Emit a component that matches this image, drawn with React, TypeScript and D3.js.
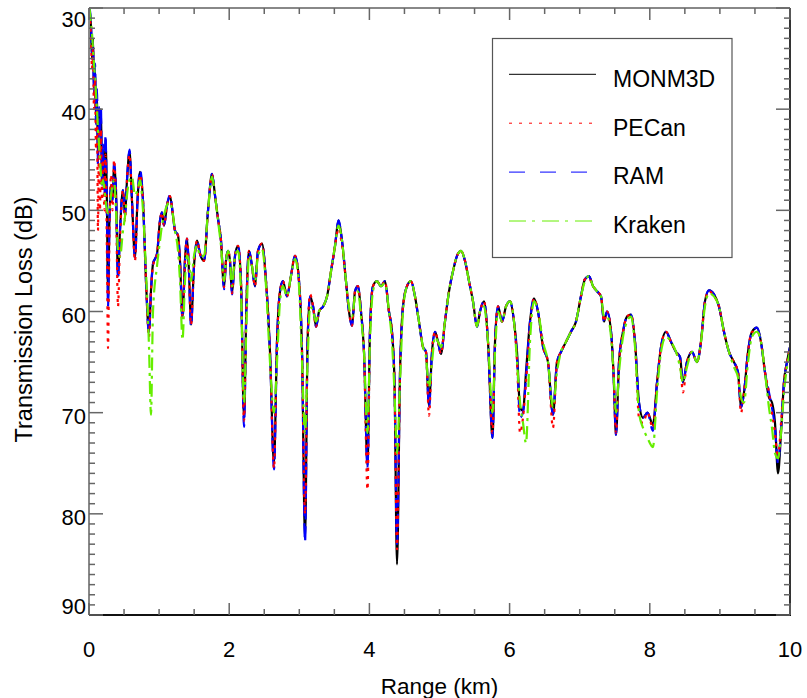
import React, { useEffect, useRef } from 'react'
import * as d3 from 'd3'

// range grid (km), shared by all four models
const ranges = [
  0.007, 0.029, 0.043, 0.057, 0.071, 0.086, 0.1, 0.114, 0.128, 0.143,
  0.157, 0.171, 0.185, 0.2, 0.221, 0.235, 0.257, 0.271, 0.292, 0.314,
  0.335, 0.357, 0.385, 0.414, 0.442, 0.485, 0.514, 0.542, 0.578, 0.613,
  0.656, 0.692, 0.728, 0.77, 0.813, 0.856, 0.884, 0.913, 0.97, 1.013,
  1.041, 1.07, 1.113, 1.155, 1.198, 1.227, 1.27, 1.298, 1.334, 1.369,
  1.398, 1.426, 1.455, 1.498, 1.541, 1.584, 1.641, 1.698, 1.755, 1.797,
  1.84, 1.883, 1.926, 1.954, 1.983, 2.011, 2.04, 2.083, 2.126, 2.168,
  2.211, 2.247, 2.282, 2.325, 2.368, 2.411, 2.468, 2.525, 2.582, 2.639,
  2.682, 2.725, 2.767, 2.824, 2.881, 2.939, 2.996, 3.039, 3.082, 3.118,
  3.154, 3.197, 3.239, 3.282, 3.339, 3.396, 3.453, 3.51, 3.559, 3.609,
  3.666, 3.709, 3.752, 3.795, 3.837, 3.88, 3.923, 3.973, 4.008, 4.051,
  4.108, 4.165, 4.222, 4.279, 4.322, 4.358, 4.394, 4.437, 4.479, 4.536,
  4.593, 4.65, 4.707, 4.764, 4.807, 4.85, 4.893, 4.936, 4.979, 5.021,
  5.078, 5.136, 5.193, 5.25, 5.307, 5.364, 5.421, 5.478, 5.535, 5.578,
  5.635, 5.692, 5.756, 5.792, 5.835, 5.892, 5.949, 6.006, 6.063, 6.106,
  6.149, 6.191, 6.234, 6.291, 6.348, 6.405, 6.477, 6.548, 6.619, 6.676,
  6.733, 6.805, 6.876, 6.947, 7.018, 7.075, 7.132, 7.19, 7.247, 7.304,
  7.347, 7.39, 7.447, 7.482, 7.518, 7.561, 7.618, 7.675, 7.732, 7.789,
  7.846, 7.903, 7.967, 8.045, 8.103, 8.16, 8.231, 8.302, 8.374, 8.431,
  8.473, 8.53, 8.602, 8.673, 8.73, 8.787, 8.845, 8.916, 8.987, 9.058,
  9.13, 9.201, 9.258, 9.301, 9.344, 9.401, 9.458, 9.529, 9.586, 9.643,
  9.7, 9.743, 9.786, 9.829, 9.872, 9.914, 9.957, 10,
]

const monm3d = [
  30.2, 32, 35, 33, 38, 36, 41, 38.5, 45, 40,
  42, 40, 47, 44, 48, 43, 50, 59, 51, 47.5,
  49, 45.5, 48, 56.5, 52, 48, 50.5, 47, 44.2, 49,
  54.6, 49, 46.2, 49, 57, 62, 58, 55.3, 54.3, 51,
  50.2, 51.5, 49.5, 48.6, 50.5, 52, 52.5, 55, 60.5, 55,
  52.8, 56, 61.3, 55.5, 53, 54.3, 55, 50, 46.4, 48.5,
  50.8, 53, 57.6, 55, 54, 55, 58.2, 54.5, 53.5, 57,
  70.5, 59, 54, 55.5, 57.5, 54, 53.3, 57, 64, 75,
  63, 58, 57, 58.5, 56.5, 54.5, 57, 64, 82.5, 63,
  58.5, 59.5, 61.5, 60, 59.5, 58.5, 56, 53.5, 51, 53,
  57, 60, 61.4, 58, 57.5, 60, 64, 75.2, 62, 57.5,
  57, 57.5, 57, 60, 62, 67, 85, 66, 59.5, 57.5,
  57, 58.5, 61, 63.5, 64, 69.3, 64, 62, 63, 64.2,
  61, 58, 56, 54.5, 54, 55, 57, 59, 61.5, 60,
  59, 63, 72.5, 63, 59.5, 61, 59.5, 59, 61, 64,
  69.5, 69.8, 66, 61, 58.7, 60, 63.5, 65, 70.2, 65,
  64, 63, 62, 61, 58.5, 56.8, 56.5, 57.5, 58, 58.5,
  61, 60, 62, 66, 72.2, 65, 62, 60.5, 60.3, 63,
  69, 70.5, 70, 71.2, 67, 63.5, 62, 63, 64, 64.5,
  67, 65, 64, 65, 63, 59, 57.9, 58.3, 59.5, 62,
  64, 65, 66, 69.5, 68, 64, 62, 61.6, 63, 66,
  68.5, 69, 71, 76, 72, 67, 65, 63.5,
]

const pecan = [
  30.5, 33, 36, 34, 40, 37, 44, 40, 52, 42,
  50, 42, 49, 45, 50, 44.5, 55, 63.6, 52, 46.5,
  50, 45, 49, 59.5, 53, 48, 51, 47, 44.5, 49,
  55, 49, 46.5, 49, 57, 62.5, 58, 55.5, 54.3, 51,
  50.2, 51.5, 49.5, 48.6, 50.5, 52, 52.5, 55, 60.5, 55,
  52.8, 56, 61.3, 55.5, 53, 54.3, 55, 50, 46.5, 48.5,
  50.8, 53, 57.6, 55, 54, 55, 58.2, 54.5, 53.5, 57,
  70.8, 59, 54, 55.5, 57.5, 54, 53.3, 57, 64, 75.5,
  63, 58, 57, 58.5, 56.5, 54.5, 57, 64, 80, 63,
  58.3, 59.5, 61.5, 60, 59.5, 58.5, 56, 53.5, 51.8, 53.5,
  57, 60, 61.4, 58, 57.5, 60, 64, 77.6, 62, 57.5,
  57, 57.5, 57, 60, 62, 67, 83.5, 66, 59.5, 57.5,
  57, 58.5, 61, 63.5, 64, 70.3, 64, 62, 63, 64.2,
  61, 58, 56, 54.5, 54, 55, 57, 59, 61.5, 60,
  59, 63, 72, 63, 59.5, 61, 59.5, 59, 61, 65,
  72, 70.5, 67, 61.5, 58.7, 60, 63.5, 65, 71.5, 65,
  64, 63, 62, 61, 58.5, 56.8, 56.7, 57.5, 58, 58.5,
  61, 60, 62, 66, 72, 65, 62, 60.5, 60.3, 63,
  70.5, 71, 70, 71.5, 67, 63.5, 62, 63, 64, 65,
  68, 65, 64, 65, 63, 59, 58, 58.5, 59.5, 62,
  64, 65, 66, 70, 68, 64, 62, 62, 63, 66,
  68, 70, 72, 74.5, 71, 67, 65, 63.5,
]

const ram = [
  30, 31.5, 34.5, 33.5, 38.5, 35.5, 41.5, 38, 45.5, 39.8,
  42.5, 40, 47.5, 43.5, 48.5, 42.5, 51, 59.5, 51, 47.5,
  49, 45.3, 48, 56.8, 52, 48, 50.5, 47, 44, 49,
  54.8, 49, 46, 49, 57, 62.2, 58, 55.3, 54.3, 51,
  50.2, 51.5, 49.5, 48.5, 50.5, 52, 52.5, 55, 60.8, 55,
  52.8, 56, 61.5, 55.5, 53, 54.3, 55, 50, 46.4, 48.5,
  50.8, 53, 57.8, 55, 54, 55, 58.3, 54.5, 53.5, 57,
  71.4, 59, 54, 55.5, 57.5, 54, 53.3, 57, 64, 75.6,
  63, 58, 57, 58.5, 56.5, 54.5, 57, 64, 82.8, 63,
  58.5, 59.5, 61.5, 60, 59.5, 58.5, 56, 53.5, 51, 53,
  57, 60, 61.4, 58, 57.5, 60, 64, 75.5, 62, 57.5,
  57, 57.5, 57, 60, 62, 67, 83, 66, 59.5, 57.5,
  57, 58.5, 61, 63.5, 64, 69.5, 64, 62, 63, 64.2,
  61, 58, 56, 54.5, 54, 55, 57, 59, 61.5, 60,
  59, 63, 72.5, 63, 59.5, 61, 59.5, 59, 61, 64.5,
  70.5, 70, 66.5, 61, 58.7, 60, 63.5, 65, 70.2, 65,
  64, 63, 62, 61, 58.5, 56.8, 56.5, 57.5, 58, 58.5,
  61, 60, 62, 66, 72.2, 65, 62, 60.5, 60.3, 63,
  69, 70.5, 70, 71.8, 67, 63.5, 62, 63, 64, 64.5,
  67, 65, 64, 65, 63, 59, 57.9, 58.3, 59.5, 62,
  64, 65, 66, 69.5, 68, 64, 62, 61.6, 63, 66,
  68, 69.5, 71.5, 75, 71.5, 67, 65, 63.5,
]

const kraken = [
  30, 31.5, 32.5, 34, 35.5, 36.8, 38.5, 40, 42, 43.5,
  45, 46.5, 47.7, 47, 48, 49, 50, 50.3, 50, 48.5,
  47.5, 47, 50, 54, 54.6, 52, 50.6, 48.5, 47, 46.7,
  48.5, 48, 47, 50, 56, 63.5, 70.2, 60, 55.5, 53,
  51.5, 50.5, 49.5, 49.2, 50.5, 52, 54, 57, 62.8, 57,
  54.5, 55, 57, 54.5, 53.5, 54.5, 54.5, 50, 46.7, 48.5,
  51, 53.5, 57, 55, 54, 55, 57.5, 54.5, 54, 58,
  69, 61, 54.5, 55.5, 57, 54.5, 53.8, 57.5, 65, 70,
  65, 59, 57.5, 58.5, 56.5, 54.8, 57.5, 65, 72, 65,
  59.5, 60, 61, 60, 59.5, 58.5, 56, 53.5, 51.5, 53,
  57, 59.5, 60.5, 58.5, 58, 60.5, 64, 72, 63, 58,
  57, 57.5, 57.2, 60, 63, 68, 74, 67, 60, 57.5,
  57, 58.5, 61, 63.5, 64.5, 67.5, 65, 62.5, 63, 63.5,
  61, 58, 56, 54.5, 54, 55, 57, 59, 61.5, 60,
  59.5, 63, 70, 64, 60, 61, 59.5, 59, 61, 65,
  69, 71, 73, 63, 59, 60, 63, 65, 69.5, 66,
  64, 63, 62, 61, 58.5, 57, 56.5, 57.5, 58, 58.5,
  60.5, 60.5, 62.5, 66, 70, 66, 62.5, 61, 60.5, 63.5,
  70, 71.5, 72.5, 73.4, 68, 64, 62.5, 63, 64, 65.5,
  67, 65.5, 64, 65, 63, 59.5, 58.2, 58.5, 59.5, 62,
  64, 65.5, 66.5, 68.5, 69, 65, 62.5, 62, 63, 66,
  69.5, 71.5, 74, 74.5, 72, 68, 65.5, 64,
]

const xTicks = [0, 2, 4, 6, 8, 10]
const yTicks = [30, 40, 50, 60, 70, 80, 90]
const seriesNames = ['MONM3D', 'PECan', 'RAM', 'Kraken']

const FONT = '"Liberation Sans", Arial, Helvetica, sans-serif'

export default function App() {
  const ref = useRef<SVGSVGElement>(null)

  useEffect(() => {
    const svg = d3.select(ref.current)
    svg.selectAll('*').remove()

    const left = 89, right = 790, top = 8, bottom = 615
    const x = d3.scaleLinear().domain([0, 10]).range([left, right])
    const y = d3.scaleLinear().domain([30, 90]).range([top, bottom])

    const styles = [
      { name: 'MONM3D', values: monm3d, color: '#000000', dash: null, legendDash: null },
      { name: 'RAM', values: ram, color: '#0000ff', dash: '14,7', legendDash: '16,15' },
      { name: 'PECan', values: pecan, color: '#ff0000', dash: '3,5', legendDash: '3,7' },
      { name: 'Kraken', values: kraken, color: '#66ee00', dash: '13,5,3,5', legendDash: '17,6,3,7' },
    ]

    svg.append('defs').append('clipPath').attr('id', 'plotclip')
      .append('rect').attr('x', left).attr('y', top).attr('width', right - left).attr('height', bottom - top)

    const line = d3.line<number>()
      .x((d, i) => x(ranges[i]))
      .y(d => y(d))
      .curve(d3.curveMonotoneX)

    const plot = svg.append('g').attr('clip-path', 'url(#plotclip)')
    styles.forEach(s => {
      plot.append('path')
        .attr('d', line(s.values))
        .attr('fill', 'none')
        .attr('stroke', s.color)
        .attr('stroke-width', 2.2)
        .attr('stroke-linejoin', 'round')
        .attr('stroke-dasharray', s.dash)
    })

    // frame
    const axes = svg.append('g')
    axes.append('line').attr('x1', left).attr('x2', right).attr('y1', top).attr('y2', top).attr('stroke', '#888').attr('stroke-width', 2)
    axes.append('line').attr('x1', left).attr('x2', left).attr('y1', top).attr('y2', bottom).attr('stroke', '#888').attr('stroke-width', 2)
    axes.append('line').attr('x1', left).attr('x2', right + 1).attr('y1', bottom).attr('y2', bottom).attr('stroke', '#111').attr('stroke-width', 2)
    axes.append('line').attr('x1', right).attr('x2', right).attr('y1', top).attr('y2', bottom).attr('stroke', '#333').attr('stroke-width', 2)

    // x ticks: minor every 0.5 km, major every 2 km
    d3.range(0, 10.001, 0.5).forEach(v => {
      const major = Math.abs(v % 2) < 1e-6
      const len = major ? 12 : 6
      axes.append('line').attr('x1', x(v)).attr('x2', x(v)).attr('y1', bottom).attr('y2', bottom - len).attr('stroke', '#666').attr('stroke-width', 1.5)
      axes.append('line').attr('x1', x(v)).attr('x2', x(v)).attr('y1', top).attr('y2', top + len).attr('stroke', '#666').attr('stroke-width', 1.5)
    })
    // y ticks: minor every 1 dB, major every 10 dB
    d3.range(30, 90.001, 1).forEach(v => {
      const major = v % 10 === 0
      const len = major ? 14 : 6
      axes.append('line').attr('x1', left).attr('x2', left + len).attr('y1', y(v)).attr('y2', y(v)).attr('stroke', '#666').attr('stroke-width', 1.5)
      axes.append('line').attr('x1', right).attr('x2', right - len).attr('y1', y(v)).attr('y2', y(v)).attr('stroke', '#666').attr('stroke-width', 1.5)
    })

    // tick labels
    axes.selectAll('text.xt').data(xTicks).join('text')
      .attr('class', 'xt')
      .attr('x', d => x(d))
      .attr('y', 657)
      .attr('text-anchor', 'middle')
      .style('font-family', FONT).style('font-size', '22px')
      .text(d => d)

    axes.selectAll('text.yt').data(yTicks).join('text')
      .attr('class', 'yt')
      .attr('x', 86)
      .attr('y', d => Math.max(19, Math.min(606, y(d) + 3)) + 8)
      .attr('text-anchor', 'end')
      .style('font-family', FONT).style('font-size', '22px')
      .text(d => d)

    // axis titles
    svg.append('text')
      .attr('x', (left + right) / 2).attr('y', 694)
      .attr('text-anchor', 'middle')
      .style('font-family', FONT).style('font-size', '22.5px')
      .text('Range (km)')
    svg.append('text')
      .attr('transform', `translate(32,${(top + bottom) / 2 + 8}) rotate(-90)`)
      .attr('text-anchor', 'middle')
      .style('font-family', FONT).style('font-size', '23.5px')
      .text('Transmission Loss (dB)')

    // legend
    const lg = svg.append('g')
    lg.append('rect').attr('x', 492.5).attr('y', 38.5).attr('width', 239.5).attr('height', 219)
      .attr('fill', '#fff').attr('stroke', '#555').attr('stroke-width', 1.2)
    seriesNames.forEach((name, i) => {
      const s = styles.find(d => d.name === name)!
      const ly = 74.3 + i * 48.9
      lg.append('line').attr('x1', 509).attr('x2', 596).attr('y1', ly).attr('y2', ly)
        .attr('stroke', s.color).attr('stroke-width', 1)
        .attr('stroke-dasharray', s.legendDash)
      lg.append('text').attr('x', 613).attr('y', ly + 12.3)
        .style('font-family', FONT).style('font-size', '23px')
        .text(name)
    })
  }, [])

  return (
    <svg ref={ref} width={807} height={698}
      style={{ position: 'absolute', left: 0, top: 0, background: '#fff' }} />
  )
}
